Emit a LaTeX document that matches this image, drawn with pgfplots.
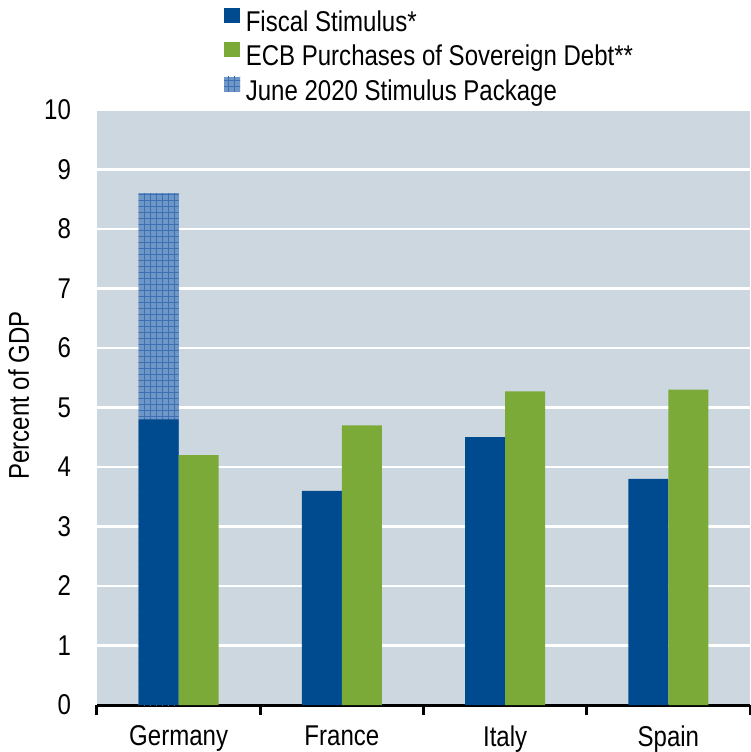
\documentclass[border=0pt]{standalone}
\usepackage{fontspec}
\setmainfont{Liberation Sans}[FakeStretch=0.84]
\usepackage{pgfplots}
\pgfplotsset{compat=1.18}
\usetikzlibrary{patterns}
\definecolor{fiscal}{HTML}{004A8F}
\definecolor{ecb}{HTML}{7BAA39}
\definecolor{bgc}{HTML}{CDD7E0}
\definecolor{junefill}{HTML}{6E96C6}
\definecolor{juneline}{HTML}{3C70B3}
\pgfplotsset{sqlegend/.style={legend image code/.code={\path[##1] (0pt,0.65pt) rectangle (8pt,8.15pt);}}}
\begin{document}
\begin{tikzpicture}
\begin{axis}[
  scale only axis, width=326.5pt, height=297.5pt,
  xmin=-0.5, xmax=3.5, ymin=0, ymax=10,
  axis x line*=bottom, axis y line*=left,
  y axis line style={draw=none},
  x axis line style={line width=1.5pt, black},
  ytick={0,1,...,10},
  major tick length=0pt,
  ytick style={draw=none},
  xtick={0,1,2,3}, xticklabels={Germany,France,Italy,Spain},
  major x tick style={draw=none},
  minor xtick={-0.5,0.5,1.5,2.5,3.5},
  minor x tick style={line width=1.5pt, black},
  minor tick length=5pt, tick align=outside,
  ymajorgrids, grid style={white, line width=1.3pt},
  axis background/.style={fill=bgc},
  /pgf/number format/assume math mode=true,
  ticklabel style={font=\fontsize{14.3}{16}\selectfont},
  yticklabel style={xshift=-9.5pt},
  xticklabel style={yshift=-6.8pt},
  ylabel={Percent of GDP},
  every axis y label/.style={at={(axis description cs:-0.147,0.52)}, rotate=90, anchor=north, font=\fontsize{14.3}{16}\selectfont},
  legend style={at={(axis description cs:0.1945,1.1735)}, anchor=north west,
    draw=none, fill=none, inner sep=0pt, outer sep=0pt,
    font=\fontsize{14.3}{16}\selectfont,
    nodes={text height=10.5pt, text depth=3.25pt, inner ysep=1.75pt, inner xsep=2.9pt},
    /tikz/every even column/.style={column sep=0pt}},
  legend cell align=left,
]
\coordinate (psw) at (rel axis cs:0,0);
\coordinate (pne) at (rel axis cs:1,1);
% June 2020 stimulus package (total height of Germany stack)
\addplot[ybar, bar width=20pt, bar shift=-10pt, fill=junefill, draw=none,
  postaction={pattern=grid, pattern color=juneline}, forget plot]
  coordinates {(0,8.6)};
\addplot[ybar, bar width=20pt, bar shift=-10pt, fill=fiscal, draw=none, sqlegend]
  coordinates {(0,4.8) (1,3.6) (2,4.5) (3,3.8)};
\addlegendentry{Fiscal Stimulus*}
\addplot[ybar, bar width=20pt, bar shift=10pt, fill=ecb, draw=none, sqlegend]
  coordinates {(0,4.2) (1,4.7) (2,5.27) (3,5.3)};
\addlegendentry{ECB Purchases of Sovereign Debt**}
\addlegendimage{sqlegend, fill=junefill, draw=none, postaction={pattern=grid, pattern color=juneline}}
\addlegendentry{June 2020 Stimulus Package}
\end{axis}
\pgfresetboundingbox
\useasboundingbox ([shift={(-48.5pt,-23.5pt)}]psw) rectangle ([shift={(0.5pt,55pt)}]pne);
\end{tikzpicture}
\end{document}
